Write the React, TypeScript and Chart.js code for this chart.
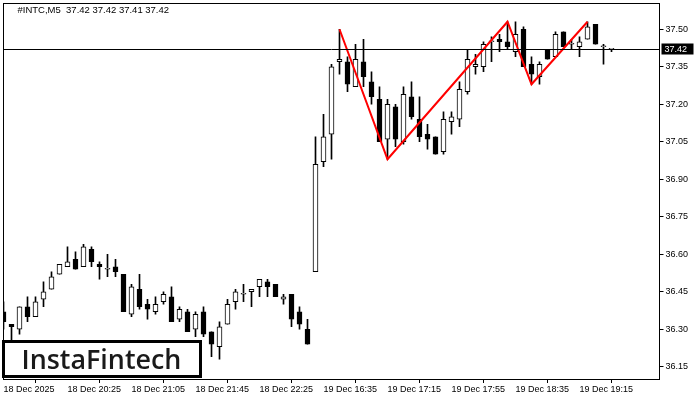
import React, { useEffect, useRef } from "react";
import { Chart, registerables } from "chart.js";

Chart.register(...registerables);

const symbolTitle = "#INTC,M5  37.42 37.42 37.41 37.42";
const brandName = "InstaFintech";

const opens = [
  36.37, 36.32, 36.30, 36.39, 36.35, 36.42, 36.46, 36.52, 36.55, 36.58,
  36.55, 36.62, 36.56, 36.54, 36.55, 36.52, 36.36, 36.46, 36.40, 36.37,
  36.41, 36.43, 36.34, 36.37, 36.30, 36.37, 36.29, 36.23, 36.32, 36.41,
  36.44, 36.45, 36.47, 36.49, 36.48, 36.42, 36.44, 36.37, 36.30, 36.53,
  36.97, 37.08, 37.37, 37.37, 37.27, 37.37, 37.29, 37.22, 37.06, 37.19,
  37.05, 37.23, 37.14, 37.08, 37.07, 37.01, 37.13, 37.14, 37.25, 37.35,
  37.35, 37.45, 37.46, 37.45, 37.41, 37.50, 37.36, 37.31, 37.42, 37.39,
  37.49, 37.44, 37.43, 37.46, 37.52, 37.43, 37.42,
];
const highs = [
  36.41, 36.32, 36.39, 36.43, 36.43, 36.49, 36.53, 36.56, 36.63, 36.61,
  36.64, 36.63, 36.57, 36.60, 36.58, 36.52, 36.48, 36.52, 36.42, 36.43,
  36.45, 36.47, 36.39, 36.38, 36.37, 36.39, 36.29, 36.33, 36.42, 36.46,
  36.48, 36.46, 36.50, 36.50, 36.48, 36.44, 36.44, 36.39, 36.34, 37.07,
  37.16, 37.36, 37.50, 37.39, 37.44, 37.46, 37.33, 37.27, 37.22, 37.20,
  37.27, 37.29, 37.23, 37.12, 37.07, 37.17, 37.17, 37.29, 37.42, 37.40,
  37.45, 37.47, 37.48, 37.53, 37.53, 37.51, 37.39, 37.37, 37.42, 37.49,
  37.49, 37.46, 37.47, 37.53, 37.52, 37.44, 37.42,
];
const lows = [
  36.30, 36.24, 36.28, 36.33, 36.35, 36.39, 36.46, 36.52, 36.55, 36.54,
  36.55, 36.55, 36.50, 36.51, 36.51, 36.37, 36.35, 36.38, 36.34, 36.36,
  36.40, 36.33, 36.33, 36.29, 36.27, 36.27, 36.19, 36.18, 36.32, 36.38,
  36.41, 36.39, 36.43, 36.43, 36.43, 36.40, 36.31, 36.30, 36.24, 36.53,
  36.95, 36.98, 37.32, 37.25, 37.27, 37.27, 37.20, 37.05, 36.98, 37.03,
  37.04, 37.14, 37.05, 37.02, 37.00, 37.00, 37.08, 37.11, 37.24, 37.32,
  37.33, 37.37, 37.41, 37.42, 37.39, 37.35, 37.28, 37.28, 37.38, 37.39,
  37.43, 37.42, 37.39, 37.46, 37.44, 37.36, 37.41,
];
const closes = [
  36.33, 36.31, 36.39, 36.35, 36.41, 36.45, 36.51, 36.56, 36.57, 36.54,
  36.63, 36.57, 36.55, 36.54, 36.53, 36.37, 36.47, 36.39, 36.38, 36.40,
  36.44, 36.33, 36.38, 36.29, 36.36, 36.28, 36.24, 36.31, 36.40, 36.45,
  36.44, 36.46, 36.50, 36.47, 36.43, 36.43, 36.34, 36.32, 36.24, 36.96,
  37.07, 37.35, 37.38, 37.28, 37.38, 37.31, 37.23, 37.05, 37.20, 37.06,
  37.24, 37.15, 37.07, 37.06, 37.00, 37.14, 37.15, 37.26, 37.38, 37.36,
  37.44, 37.45, 37.45, 37.43, 37.48, 37.35, 37.32, 37.36, 37.38, 37.48,
  37.43, 37.44, 37.45, 37.51, 37.44, 37.43, 37.42,
];

const xTickLabels = [
  "18 Dec 2025", "18 Dec 20:25", "18 Dec 21:05", "18 Dec 21:45", "18 Dec 22:25",
  "19 Dec 16:35", "19 Dec 17:15", "19 Dec 17:55", "19 Dec 18:35", "19 Dec 19:15",
];
const yTicks = [36.15, 36.30, 36.45, 36.60, 36.75, 36.90, 37.05, 37.20, 37.35, 37.50];

const patternIdx = [42, 48, 63, 66, 73];
const patternVal = [37.50, 36.98, 37.53, 37.28, 37.53];

const currentPrice = 37.42;
const emptySlotsRight = 6;
const labelEvery = 8;
const yMin = 36.101;
const yMax = 37.605;

const FONT = '"Liberation Sans", Arial, sans-serif';

const mtPlugin = {
  id: "mtDecor",
  beforeDraw(chart: any) {
    const { ctx, width, height } = chart;
    ctx.save();
    ctx.fillStyle = "#fff";
    ctx.fillRect(0, 0, width, height);
    ctx.restore();
  },
  afterDatasetsDraw(chart: any) {
    const { ctx, chartArea, scales } = chart;
    const { left, top, right, bottom } = chartArea;
    const y = scales.y;
    ctx.save();
    // current price line
    const py = Math.round(y.getPixelForValue(currentPrice)) + 0.5;
    ctx.strokeStyle = "#000";
    ctx.lineWidth = 1;
    ctx.beginPath();
    ctx.moveTo(left, py);
    ctx.lineTo(right, py);
    ctx.stroke();
    // frame
    const fl = Math.floor(left) + 0.5;
    const ft = Math.floor(top) + 0.5;
    const fr = Math.floor(right) + 0.5;
    const fb = Math.floor(bottom) + 0.5;
    ctx.strokeRect(fl, ft, fr - fl, fb - ft);
    // price label
    ctx.fillStyle = "#000";
    ctx.fillRect(fr + 2, py - 6, 32, 11);
    ctx.fillStyle = "#fff";
    ctx.font = `9px ${FONT}`;
    ctx.textBaseline = "middle";
    ctx.textAlign = "left";
    ctx.fillText(currentPrice.toFixed(2), fr + 5, py);
    // title
    ctx.fillStyle = "#000";
    ctx.font = `9.5px ${FONT}`;
    ctx.fillText(symbolTitle, left + 14, top + 7.5);
    // brand box
    ctx.fillStyle = "#fff";
    ctx.fillRect(3, 341, 197, 36);
    ctx.strokeStyle = "#000";
    ctx.lineWidth = 3;
    ctx.strokeRect(3.5, 341.5, 197, 35);
    ctx.fillStyle = "#1a1a1a";
    let size = 25;
    ctx.font = `600 ${size}px "Open Sans", sans-serif`;
    const w = ctx.measureText(brandName).width;
    size = (size * 160) / w;
    ctx.font = `600 ${size}px "Open Sans", sans-serif`;
    ctx.textBaseline = "alphabetic";
    ctx.fillText(brandName, 21.5, 368.5);
    ctx.restore();
  },
};

export default function App() {
  const canvasRef = useRef<HTMLCanvasElement | null>(null);

  useEffect(() => {
    document.body.style.margin = "0";
    const canvas = canvasRef.current;
    if (!canvas) return;
    const total = opens.length + emptySlotsRight;
    const labels = Array.from({ length: total }, (_, i) => String(i));
    const lineData: (number | null)[] = opens.map(() => null);
    patternIdx.forEach((idx, k) => {
      lineData[idx] = patternVal[k];
    });

    const chart = new Chart(canvas, {
      type: "bar",
      data: {
        labels,
        datasets: [
          {
            type: "line",
            label: "pattern",
            data: lineData,
            borderColor: "#ff0000",
            borderWidth: 2,
            pointRadius: 0,
            spanGaps: true,
            order: 0,
          } as any,
          {
            type: "bar",
            label: "body",
            data: opens.map((o, i) => [o, closes[i]]),
            backgroundColor: opens.map((o, i) => (closes[i] >= o ? "#ffffff" : "#000000")),
            borderColor: "#000",
            borderWidth: 1,
            borderSkipped: false,
            barThickness: 5,
            minBarLength: 1,
            grouped: false,
            order: 1,
          } as any,
          {
            type: "bar",
            label: "wick",
            data: lows.map((l, i) => [l, highs[i]]),
            backgroundColor: "#000",
            barThickness: 1,
            grouped: false,
            order: 2,
          } as any,
        ],
      },
      options: {
        responsive: false,
        animation: false,
        devicePixelRatio: 1,
        layout: { autoPadding: false, padding: { left: 3.5, top: 3, right: 0, bottom: 0 } },
        plugins: {
          legend: { display: false },
          tooltip: { enabled: false },
          title: { display: false },
        },
        scales: {
          x: {
            type: "category",
            offset: false,
            afterFit: (s: any) => {
              s.height = 21;
              s.paddingLeft = 0;
              s.paddingRight = 0;
            },
            grid: {
              display: true,
              drawOnChartArea: false,
              drawTicks: true,
              tickLength: 4,
              color: "#000",
            },
            border: { display: false },
            ticks: {
              autoSkip: false,
              maxRotation: 0,
              minRotation: 0,
              align: "start",
              padding: 1,
              color: "#000",
              font: { family: FONT, size: 9 },
              callback: (_v: any, i: number) =>
                i % labelEvery === 0 && xTickLabels[i / labelEvery] !== undefined
                  ? xTickLabels[i / labelEvery]
                  : null,
            },
          },
          y: {
            type: "linear",
            position: "right",
            min: yMin,
            max: yMax,
            afterFit: (s: any) => {
              s.width = 40.5;
              s.paddingTop = 0;
              s.paddingBottom = 0;
            },
            afterBuildTicks: (s: any) => {
              s.ticks = yTicks.map((v) => ({ value: v }));
            },
            grid: {
              display: true,
              drawOnChartArea: false,
              drawTicks: true,
              tickLength: 4,
              color: "#000",
            },
            border: { display: false },
            ticks: {
              padding: 2,
              color: "#000",
              font: { family: FONT, size: 9 },
              callback: (v: any) => Number(v).toFixed(2),
            },
          },
        },
      },
      plugins: [mtPlugin],
    });

    return () => chart.destroy();
  }, []);

  return (
    <div style={{ width: 700, height: 400 }}>
      <canvas ref={canvasRef} width={700} height={400} />
    </div>
  );
}
